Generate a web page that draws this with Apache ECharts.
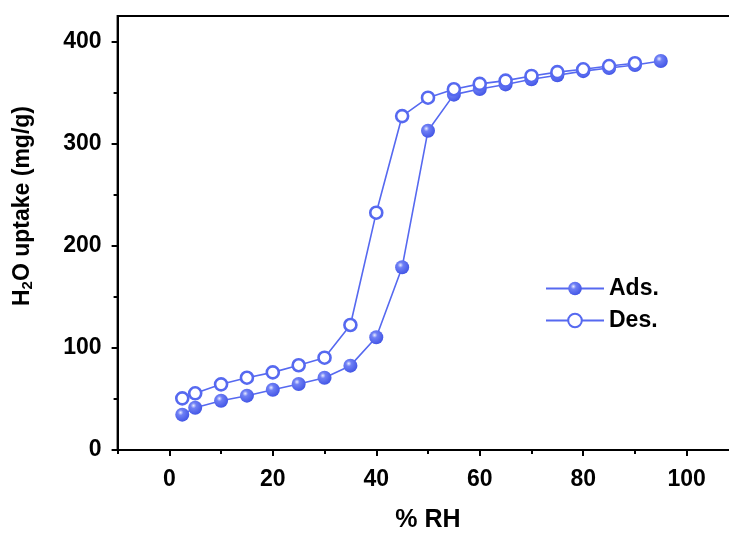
<!DOCTYPE html>
<html>
<head>
<meta charset="utf-8">
<script src="https://cdn.jsdelivr.net/npm/echarts@6/dist/echarts.min.js"></script>
<style>
  html, body { margin: 0; padding: 0; background: #fff; }
  #chart { width: 729px; height: 536px; }
</style>
</head>
<body>
<div id="chart"></div>
<script>
// Water vapour isotherm: adsorption and desorption branches
const rhAds = [2.5, 5, 10, 15, 20, 25, 30, 35, 40, 45, 50, 55, 60, 65, 70, 75, 80, 85, 90, 95];
const uptakeAds = [34.6, 41.4, 48.3, 53.2, 59, 64.6, 70.8, 82.6, 110.4, 179, 312.7, 348, 353.5, 358, 363, 367, 371, 374, 377, 381];
const rhDes = [90, 85, 80, 75, 70, 65, 60, 55, 50, 45, 40, 35, 30, 25, 20, 15, 10, 5, 2.5];
const uptakeDes = [378.7, 376, 372.8, 370, 366.3, 361.7, 358.5, 353.3, 345, 327, 232.4, 122.4, 90.4, 83, 76, 70.8, 64.3, 55.5, 50.6];

const xMajorTicks = [0, 20, 40, 60, 80, 100];
const xMinorTicks = [-10, 10, 30, 50, 70, 90, 110];
const yMajorTicks = [0, 100, 200, 300, 400];
const yMinorTicks = [50, 150, 250, 350];

const BLUE = '#5669f0';
const FONT = 'Arial, "Liberation Sans", sans-serif';

const pairs = (xs, ys) => xs.map((x, i) => [x, ys[i]]);

const sphere = new echarts.graphic.RadialGradient(0.38, 0.35, 0.65, [
  { offset: 0, color: '#e8ebff' },
  { offset: 0.3, color: '#6f80f5' },
  { offset: 1, color: '#4457e6' }
]);

const chart = echarts.init(document.getElementById('chart'), null, { renderer: 'canvas' });

const baseX = { type: 'value', min: -10, max: 110, gridIndex: 0, position: 'bottom' };
const baseY = { type: 'value', min: 0, max: 425, gridIndex: 0, position: 'left' };

chart.setOption({
  animation: false,
  backgroundColor: '#fff',
  grid: {
    left: 117.6, top: 16, right: -9.4, bottom: 86,
    containLabel: false,
    outerBoundsMode: 'none',
    show: true, borderColor: '#000', borderWidth: 2, backgroundColor: 'transparent'
  },
  xAxis: [
    Object.assign({}, baseX, {
      name: '% RH',
      nameLocation: 'middle',
      nameGap: 58,
      nameTextStyle: { fontFamily: FONT, fontWeight: 'bold', fontSize: 25, color: '#000' },
      axisLine: { show: true, onZero: false, lineStyle: { color: '#000', width: 2 } },
      axisTick: { show: true, inside: false, length: 6, customValues: xMajorTicks, lineStyle: { color: '#000', width: 2 } },
      axisLabel: { customValues: xMajorTicks, margin: 18, fontFamily: FONT, fontWeight: 'bold', fontSize: 23, color: '#000' },
      splitLine: { show: false }
    }),
    Object.assign({}, baseX, {
      axisLine: { show: false, onZero: false },
      axisTick: { show: true, length: 4, customValues: xMinorTicks, lineStyle: { color: '#000', width: 2 } },
      axisLabel: { show: false },
      splitLine: { show: false }
    })
  ],
  yAxis: [
    Object.assign({}, baseY, {
      axisLine: { show: true, onZero: false, lineStyle: { color: '#000', width: 2 } },
      axisTick: { show: true, inside: false, length: 6, customValues: yMajorTicks, lineStyle: { color: '#000', width: 2 } },
      axisLabel: { customValues: yMajorTicks, margin: 16, fontFamily: FONT, fontWeight: 'bold', fontSize: 23, color: '#000' },
      splitLine: { show: false }
    }),
    Object.assign({}, baseY, {
      axisLine: { show: false, onZero: false },
      axisTick: { show: true, length: 4, customValues: yMinorTicks, lineStyle: { color: '#000', width: 2 } },
      axisLabel: { show: false },
      splitLine: { show: false }
    })
  ],
  legend: {
    orient: 'vertical',
    left: 540,
    top: 272,
    itemWidth: 58,
    itemHeight: 17,
    itemGap: 9,
    textStyle: { fontFamily: FONT, fontWeight: 'bold', fontSize: 23, color: '#000', padding: [0, 0, 0, 0] },
    data: ['Ads.', 'Des.']
  },
  graphic: [{
    type: 'text',
    x: 23,
    y: 206,
    rotation: Math.PI / 2,
    style: {
      text: '{t|H}{s|2}{t|O uptake (mg/g)}',
      align: 'center',
      verticalAlign: 'middle',
      rich: {
        t: { fontFamily: FONT, fontWeight: 'bold', fontSize: 23, fill: '#000' },
        s: { fontFamily: FONT, fontWeight: 'bold', fontSize: 15, fill: '#000', padding: [10, 0, 0, 0] }
      }
    }
  }],
  series: [
    {
      name: 'Ads.',
      type: 'line',
      xAxisIndex: 0,
      yAxisIndex: 0,
      data: pairs(rhAds, uptakeAds),
      symbol: 'circle',
      symbolSize: 14,
      showAllSymbol: true,
      lineStyle: { color: BLUE, width: 1.6 },
      itemStyle: { color: sphere, borderWidth: 0 },
      z: 2
    },
    {
      name: 'Des.',
      type: 'line',
      xAxisIndex: 0,
      yAxisIndex: 0,
      data: pairs(rhDes, uptakeDes),
      symbol: 'circle',
      symbolSize: 12,
      showAllSymbol: true,
      lineStyle: { color: BLUE, width: 1.6 },
      itemStyle: { color: '#fff', borderColor: BLUE, borderWidth: 2.6 },
      z: 3
    }
  ]
});
</script>
</body>
</html>
